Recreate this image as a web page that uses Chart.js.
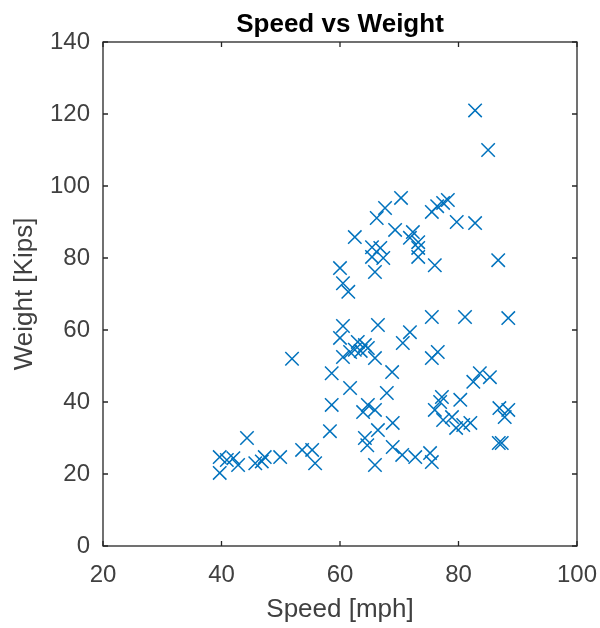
<!DOCTYPE html>
<html>
<head>
<meta charset="utf-8">
<script src="https://cdn.jsdelivr.net/npm/chart.js@4/dist/chart.umd.min.js"></script>
<style>
  body { margin: 0; background: #fff; }
  canvas { display: block; }
</style>
</head>
<body>
<canvas id="speedChart" width="600" height="628"></canvas>
<script>
// Speed (mph) and weight (kips)
const speed = [
  39.7, 39.7, 40.9, 42.0, 42.8, 44.3, 45.7, 46.8, 47.3, 49.9, 51.9, 53.6, 55.3, 55.8,
  58.3, 58.6, 58.6, 61.7, 67.9, 64.7, 65.9, 63.9, 68.9, 66.4, 64.2, 64.6, 68.9, 70.5, 72.7, 65.9, 68.8,
  60.5, 66.4, 71.8, 70.6, 60.0, 63.0, 64.2, 61.7, 60.5, 64.7, 65.9, 62.5, 63.5,
  60.0, 60.5, 61.4, 62.5, 65.4, 66.8, 65.4, 67.3, 65.9, 66.2, 67.6, 70.3, 69.3, 72.3, 71.8, 73.2, 73.2, 73.2, 76.0,
  75.5, 76.4, 77.4, 78.2, 79.7, 82.8, 82.8, 85.0, 86.7, 75.5, 81.1, 88.4, 76.5, 75.5, 83.6, 85.3, 82.5,
  80.3, 77.2, 76.9, 76.0, 78.9, 77.4, 80.8, 82.0, 79.6, 86.9, 88.4, 87.8, 87.3, 86.8, 75.2, 75.5
];
const weight = [
  20.3, 24.7, 23.9, 24.4, 22.5, 30.0, 23.0, 23.5, 24.7, 24.7, 52.0, 26.7, 26.7, 23.0,
  31.9, 39.2, 48.0, 43.9, 42.5, 39.2, 37.8, 37.2, 34.2, 32.2, 30.0, 28.0, 27.5, 25.3, 24.7, 22.5, 48.3,
  61.1, 61.4, 59.4, 56.4, 57.8, 56.7, 55.8, 53.9, 52.5, 55.0, 52.2, 54.5, 54.2,
  77.2, 73.0, 70.6, 85.8, 83.0, 82.8, 80.3, 80.0, 76.1, 91.1, 93.9, 96.7, 87.8, 87.2, 85.6, 84.4, 82.8, 80.3, 78.0,
  92.8, 94.4, 95.3, 96.1, 90.0, 89.7, 121.0, 110.0, 79.4, 63.6, 63.6, 63.3, 53.9, 52.2, 48.0, 46.9, 45.6,
  40.6, 41.4, 40.0, 37.8, 35.8, 35.0, 33.6, 34.2, 32.8, 38.3, 37.8, 35.8, 28.6, 28.6, 25.8, 23.3
];
const xTicks = [20, 40, 60, 80, 100];
const yTicks = [0, 20, 40, 60, 80, 100, 120, 140];

const fontFamily = "'Liberation Sans', Arial, Helvetica, sans-serif";
const axisColor = '#262626';
const textColor = '#404040';

// box round the plot with short inward ticks, as matlab does
const frame = {
  id: 'frame',
  afterDatasetsDraw(chart) {
    const { ctx, chartArea: a, scales: { x, y } } = chart;
    const len = 5;
    ctx.save();
    ctx.strokeStyle = axisColor;
    ctx.lineWidth = 1.3;
    ctx.strokeRect(a.left, a.top, a.right - a.left, a.bottom - a.top);
    ctx.beginPath();
    xTicks.forEach(v => {
      const px = x.getPixelForValue(v);
      ctx.moveTo(px, a.bottom); ctx.lineTo(px, a.bottom - len);
      ctx.moveTo(px, a.top); ctx.lineTo(px, a.top + len);
    });
    yTicks.forEach(v => {
      const py = y.getPixelForValue(v);
      ctx.moveTo(a.left, py); ctx.lineTo(a.left + len, py);
      ctx.moveTo(a.right, py); ctx.lineTo(a.right - len, py);
    });
    ctx.stroke();
    ctx.restore();
  }
};

const ctx = document.getElementById('speedChart').getContext('2d');
new Chart(ctx, {
  type: 'scatter',
  data: {
    datasets: [{
      data: speed.map((s, i) => ({ x: s, y: weight[i] })),
      pointStyle: 'crossRot',
      pointRadius: 9.5,
      pointHoverRadius: 9.5,
      borderColor: '#0072BD',
      backgroundColor: '#0072BD',
      pointBorderWidth: 1.5
    }]
  },
  options: {
    responsive: false,
    animation: false,
    layout: { padding: { left: 0, right: 23, top: 0, bottom: 0 } },
    plugins: {
      legend: { display: false },
      tooltip: { enabled: false }
    },
    scales: {
      x: {
        type: 'linear',
        min: 20,
        max: 100,
        afterFit: s => { s.height = 82; s.paddingLeft = 0; s.paddingRight = 0; },
        afterBuildTicks: s => { s.ticks = xTicks.map(v => ({ value: v })); },
        grid: { display: false, drawTicks: false },
        border: { display: false },
        ticks: {
          padding: 15,
          color: textColor,
          font: { family: fontFamily, size: 24 }
        },
        title: {
          display: true,
          text: 'Speed [mph]',
          color: textColor,
          font: { family: fontFamily, size: 26 },
          padding: { top: 0, bottom: 3 }
        }
      },
      // top axis only carries the title, so it sits centred over the plot box
      top: {
        type: 'linear',
        position: 'top',
        min: 20,
        max: 100,
        afterFit: s => { s.height = 42; s.paddingLeft = 0; s.paddingRight = 0; },
        grid: { display: false, drawTicks: false },
        border: { display: false },
        ticks: { display: false },
        title: {
          display: true,
          text: 'Speed vs Weight',
          color: '#000',
          font: { family: fontFamily, size: 26, weight: 'bold' },
          padding: { top: 9, bottom: 0 }
        }
      },
      y: {
        type: 'linear',
        min: 0,
        max: 140,
        afterFit: s => { s.width = 103; s.paddingTop = 0; s.paddingBottom = 0; },
        afterBuildTicks: s => { s.ticks = yTicks.map(v => ({ value: v })); },
        grid: { display: false, drawTicks: false },
        border: { display: false },
        ticks: {
          padding: 13,
          color: textColor,
          font: { family: fontFamily, size: 24 }
        },
        title: {
          display: true,
          text: 'Weight [Kips]',
          color: textColor,
          font: { family: fontFamily, size: 26 },
          padding: { top: 9, bottom: 0 }
        }
      }
    }
  },
  plugins: [frame]
});
</script>
</body>
</html>
